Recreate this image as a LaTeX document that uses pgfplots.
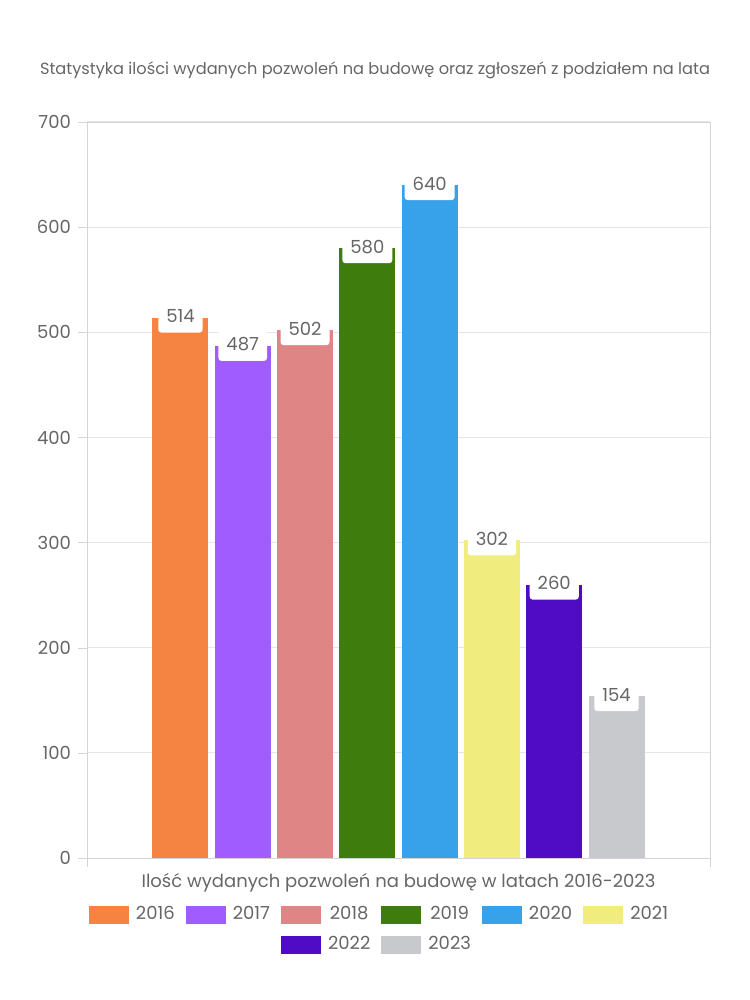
\documentclass[border=0pt]{standalone}
\usepackage{pgfplots}
\pgfplotsset{compat=1.18}
\usepackage{fontspec}
\setmainfont{Poppins}
\definecolor{txt}{HTML}{666666}
\definecolor{gridc}{HTML}{E6E6E6}
\definecolor{axisc}{HTML}{D4D4D4}
\definecolor{c16}{HTML}{F58442}
\definecolor{c17}{HTML}{A15CFF}
\definecolor{c18}{HTML}{E08585}
\definecolor{c19}{HTML}{3F7C0E}
\definecolor{c20}{HTML}{37A2EA}
\definecolor{c21}{HTML}{F0EC7D}
\definecolor{c22}{HTML}{500CC4}
\definecolor{c23}{HTML}{C8C9CD}
\begin{document}
\begin{tikzpicture}
\begin{axis}[
  scale only axis, width=311.5pt, height=368pt,
  xmin=-1.5, xmax=8.5, ymin=0, ymax=700,
  ytick={0,100,...,700},
  xtick={-1.5,8.5}, xticklabels={,},
  tick pos=left,
  tick align=outside, major tick length=4.5pt,
  tick style={draw=axisc},
  ymajorgrids, grid style={draw=gridc, line width=0.5pt},
  axis line style={draw=axisc},
  ticklabel style={font=\fontsize{9}{10}\selectfont, text=txt},
  /pgf/number format/assume math mode=true,
  ybar,
  every axis plot/.append style={bar width=0.9, bar shift=0pt, draw=none},
  nodes near coords,
  every node near coord/.append style={font=\fontsize{9}{10}\selectfont, text=txt,
    fill=white, rounded corners=1.5pt, anchor=base, yshift=-2.5pt,
    inner xsep=4pt, inner ysep=5pt, text depth=0pt},
  title={Statystyka ilości wydanych pozwoleń na budowę oraz zgłoszeń z podziałem na lata},
  title style={font=\fontsize{8.1}{10}\selectfont, text=txt, anchor=base,
    at={(0.5,1)}, yshift=17.5pt, xshift=-11.75pt},
  xlabel={Ilość wydanych pozwoleń na budowę w latach 2016-2023},
  xlabel style={font=\fontsize{9}{10}\selectfont, text=txt, anchor=base,
    at={(0.5,0)}, yshift=-14.5pt},
  legend columns=6,
  legend image code/.code={\fill[#1] (0pt,-4.5pt) rectangle (20pt,4.5pt);},
  legend style={at={(0.5,0)}, anchor=north, yshift=-22pt, xshift=-9pt,
    draw=none, fill=none, inner sep=0pt, font=\fontsize{9}{10}\selectfont,
    text=txt, row sep=3pt, column sep=1.5pt,
    /tikz/every even column/.append style={column sep=3.5pt}},
]
\addplot[fill=c16] coordinates {(0,514)}; \addlegendentry{2016}
\addplot[fill=c17] coordinates {(1,487)}; \addlegendentry{2017}
\addplot[fill=c18] coordinates {(2,502)}; \addlegendentry{2018}
\addplot[fill=c19] coordinates {(3,580)}; \addlegendentry{2019}
\addplot[fill=c20] coordinates {(4,640)}; \addlegendentry{2020}
\addplot[fill=c21] coordinates {(5,302)}; \addlegendentry{2021}
\addlegendimage{empty legend}\addlegendentry{}
\addlegendimage{empty legend}\addlegendentry{}
\addplot[fill=c22] coordinates {(6,260)}; \addlegendentry{2022}
\addplot[fill=c23] coordinates {(7,154)}; \addlegendentry{2023}
\end{axis}
\path[use as bounding box] ([xshift=-43.5pt,yshift=-71pt]current axis.south west)
  rectangle ([xshift=20pt,yshift=61pt]current axis.north east);
\end{tikzpicture}
\end{document}
